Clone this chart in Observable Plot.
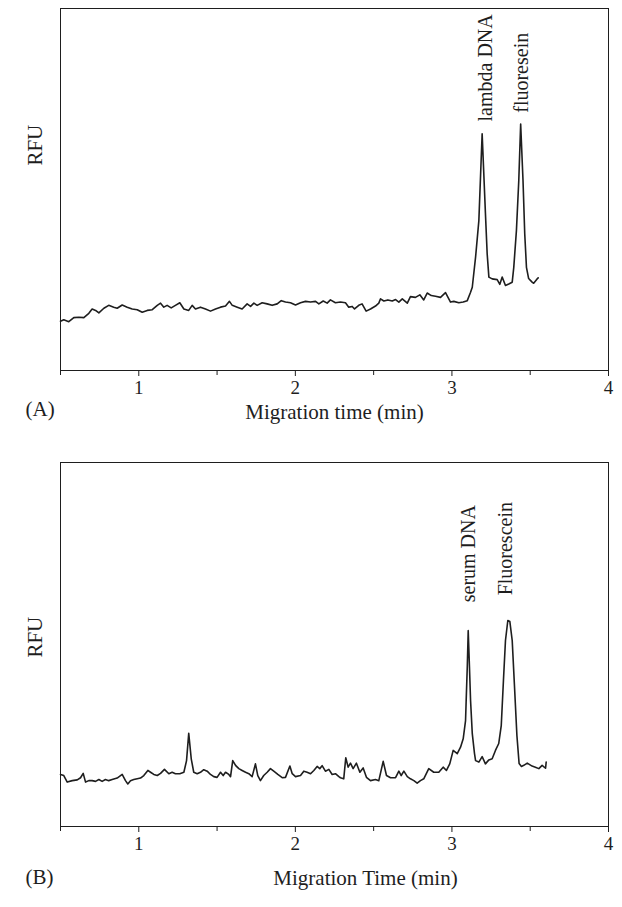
<!DOCTYPE html>
<html><head><meta charset="utf-8">
<script src="https://cdn.jsdelivr.net/npm/d3@7"></script>
<script src="https://cdn.jsdelivr.net/npm/@observablehq/plot@0.6"></script>
<style>
body{margin:0;background:#fff;}
#chart{width:622px;}
#chart svg{display:block;}
</style>
</head><body><div id="chart"></div>
<script>
// ---- Panel A data ----
const timeA = [0.500,0.521,0.553,0.585,0.617,0.649,0.681,0.702,0.724,0.745,
0.777,0.808,0.840,0.862,0.894,0.926,0.958,0.990,1.022,1.054,
1.086,1.118,1.139,1.160,1.181,1.207,1.234,1.262,1.288,1.319,
1.341,1.362,1.394,1.426,1.458,1.490,1.522,1.554,1.579,1.597,
1.629,1.660,1.692,1.714,1.735,1.756,1.788,1.820,1.852,1.884,
1.910,1.937,1.969,2.001,2.033,2.065,2.097,2.129,2.150,2.178,
2.203,2.224,2.256,2.288,2.320,2.341,2.363,2.378,2.405,2.426,
2.452,2.480,2.512,2.533,2.544,2.565,2.591,2.619,2.640,2.661,
2.683,2.715,2.735,2.767,2.795,2.820,2.842,2.868,2.895,2.927,
2.959,2.991,3.012,3.044,3.072,3.098,3.119,3.130,3.151,3.172,
3.193,3.214,3.225,3.236,3.257,3.289,3.306,3.321,3.342,3.363,
3.385,3.395,3.412,3.427,3.439,3.454,3.465,3.476,3.490,3.512,
3.522,3.544,3.551];
const rfuA = [13.6,14.0,13.5,14.6,14.7,14.6,15.8,17.0,16.6,15.9,
17.2,18.0,17.5,17.2,18.1,17.5,17.0,16.8,16.1,16.6,
16.8,18.0,18.6,17.5,18.0,17.3,18.0,18.7,17.0,16.6,
18.0,17.0,17.5,17.0,16.4,17.0,17.5,17.8,19.1,18.0,
17.5,17.0,18.4,17.7,18.6,18.0,18.7,18.4,18.0,18.4,
19.3,18.9,18.7,18.1,18.7,19.1,18.9,19.1,18.4,19.2,
18.6,19.5,18.7,18.9,18.7,17.5,17.7,17.0,18.0,18.4,
16.4,17.0,17.8,18.6,19.8,19.2,19.5,19.2,19.6,18.9,
19.8,18.6,20.4,20.2,20.9,19.5,21.4,20.7,20.5,20.2,
21.5,18.9,19.1,18.7,18.9,19.3,21.6,23.0,31.3,41.4,
65.4,43.4,32.3,25.8,25.3,25.1,23.8,25.8,23.5,23.9,
24.4,28.5,38.7,52.5,68.1,52.5,37.8,28.5,25.4,24.4,
24.1,25.3,25.6];
const peakNamesA = ["lambda DNA", "fluoresein"];
const peakTimesA = [3.212, 3.447];
const peakLabelRfuA = [68.8, 71.2];

// ---- Panel B data ----
const timeB = [0.500,0.521,0.543,0.575,0.607,0.628,0.645,0.660,0.681,0.702,
0.724,0.745,0.766,0.787,0.808,0.830,0.862,0.894,0.915,0.930,
0.947,0.968,0.990,1.011,1.032,1.058,1.075,1.096,1.118,1.139,
1.164,1.192,1.213,1.234,1.262,1.288,1.305,1.319,1.335,1.351,
1.373,1.394,1.415,1.437,1.458,1.479,1.500,1.522,1.539,1.554,
1.575,1.586,1.600,1.618,1.639,1.660,1.682,1.703,1.724,1.745,
1.760,1.777,1.798,1.820,1.841,1.862,1.888,1.916,1.937,1.965,
1.980,2.001,2.033,2.054,2.075,2.097,2.118,2.139,2.156,2.171,
2.192,2.214,2.235,2.256,2.278,2.288,2.309,2.322,2.337,2.352,
2.369,2.390,2.412,2.433,2.454,2.480,2.512,2.533,2.561,2.582,
2.608,2.640,2.661,2.676,2.693,2.715,2.735,2.757,2.778,2.799,
2.820,2.852,2.884,2.916,2.944,2.965,2.986,3.008,3.034,3.055,
3.072,3.087,3.091,3.098,3.104,3.112,3.119,3.130,3.144,3.151,
3.172,3.193,3.214,3.236,3.257,
3.278,3.299,3.315,3.329,3.342,3.357,3.370,3.385,3.399,3.415,
3.429,3.444,3.459,3.481,3.512,3.533,3.555,3.576,3.598,3.602];
const rfuB = [14.3,14.0,12.2,12.6,12.8,13.4,14.6,12.2,12.6,12.6,
12.4,12.9,12.4,12.9,12.6,12.9,13.3,14.3,12.6,11.7,
12.6,12.9,13.1,13.3,14.0,15.4,14.9,14.3,14.0,14.6,
15.7,14.5,14.9,14.5,14.5,14.9,18.1,25.6,18.6,14.9,
14.5,14.9,15.6,15.2,14.3,13.7,13.5,14.9,14.0,14.9,
14.3,13.7,18.1,16.8,15.9,15.4,14.9,14.5,13.7,17.2,
14.0,12.6,14.0,14.9,15.9,15.2,14.3,13.4,13.5,16.6,
14.5,13.7,14.0,15.2,14.9,14.5,15.4,16.5,15.9,16.7,
15.2,15.7,14.3,14.5,13.7,13.4,13.1,18.9,16.3,17.4,
15.9,17.4,14.9,16.1,13.5,12.6,12.9,12.6,17.9,14.0,
13.4,13.4,15.2,14.0,15.2,13.7,13.1,12.6,11.9,12.6,
13.1,15.9,14.9,14.9,16.3,15.4,17.2,20.9,20.0,21.8,
24.1,29.1,34.6,43.8,53.8,43.8,34.6,25.5,20.1,18.1,
17.7,19.2,17.2,18.3,18.6,
20.9,22.8,27.7,40.1,51.1,56.6,56.3,51.1,39.0,25.0,
17.3,16.5,16.8,17.4,16.6,16.3,15.9,16.8,16.0,17.7];
const peakNamesB = ["serum DNA", "Fluorescein"];
const peakTimesB = [3.108, 3.342];
const peakLabelRfuB = [61.6, 63.5];

// ---- axis ----
const majorTicks = [1, 2, 3, 4];
const minorTicks = [0.5, 1.5, 2.5, 3.5];
const xDomain = [0.5, 4];
const yDomain = [0, 100];

const FONT = "'Liberation Serif', 'Times New Roman', serif";
const INK = "#1e1e1e";

function panel(opts) {
  const series = opts.times.map((t, i) => ({t, rfu: opts.rfu[i]}));
  const labels = opts.names.map((n, i) => ({name: n, t: opts.peakTimes[i], rfu: opts.peakRfu[i]}));
  return Plot.plot({
    width: 622,
    height: opts.height,
    marginLeft: 60,
    marginRight: 14,
    marginTop: opts.marginTop,
    marginBottom: opts.marginBottom,
    style: {fontFamily: FONT, color: INK, background: "#fff", overflow: "visible"},
    x: {domain: xDomain},
    y: {domain: yDomain, axis: null},
    marks: [
      Plot.frame({stroke: INK, strokeWidth: 1}),
      Plot.axisX({ticks: minorTicks, tickSize: 5, tickFormat: () => "", label: null, stroke: INK}),
      Plot.axisX({ticks: majorTicks, tickSize: 6, tickPadding: 4, tickFormat: d3.format("d"), fontSize: 19, label: null, stroke: INK, fill: INK}),
      Plot.line(series, {x: "t", y: "rfu", stroke: INK, strokeWidth: 1.6, strokeLinejoin: "round"}),
      Plot.text(labels, {x: "t", y: "rfu", text: "name", rotate: -90, textAnchor: "start", fontSize: 20, fill: INK}),
      Plot.text(["RFU"], {frameAnchor: "left", y: opts.rfuLabelY, dx: -25, rotate: -90, fontSize: 21, fill: INK}),
      Plot.text([opts.title], {frameAnchor: "bottom", dx: opts.titleDx, dy: opts.titleDy, fontSize: 21, fill: INK}),
      Plot.text([opts.tag], {frameAnchor: "bottom-left", dx: -35, dy: opts.tagDy, fontSize: 21, fill: INK})
    ]
  });
}

const chart = document.getElementById("chart");
chart.append(panel({
  times: timeA, rfu: rfuA, names: peakNamesA, peakTimes: peakTimesA, peakRfu: peakLabelRfuA,
  height: 440, marginTop: 8, marginBottom: 70,
  rfuLabelY: 56.6, title: "Migration time (min)", titleDx: 0, titleDy: 48, tag: "(A)", tagDy: 45
}));
chart.append(panel({
  times: timeB, rfu: rfuB, names: peakNamesB, peakTimes: peakTimesB, peakRfu: peakLabelRfuB,
  height: 467, marginTop: 22, marginBottom: 81,
  rfuLabelY: 46.4, title: "Migration Time (min)", titleDx: 31, titleDy: 58, tag: "(B)", tagDy: 57
}));
</script>
</body></html>
